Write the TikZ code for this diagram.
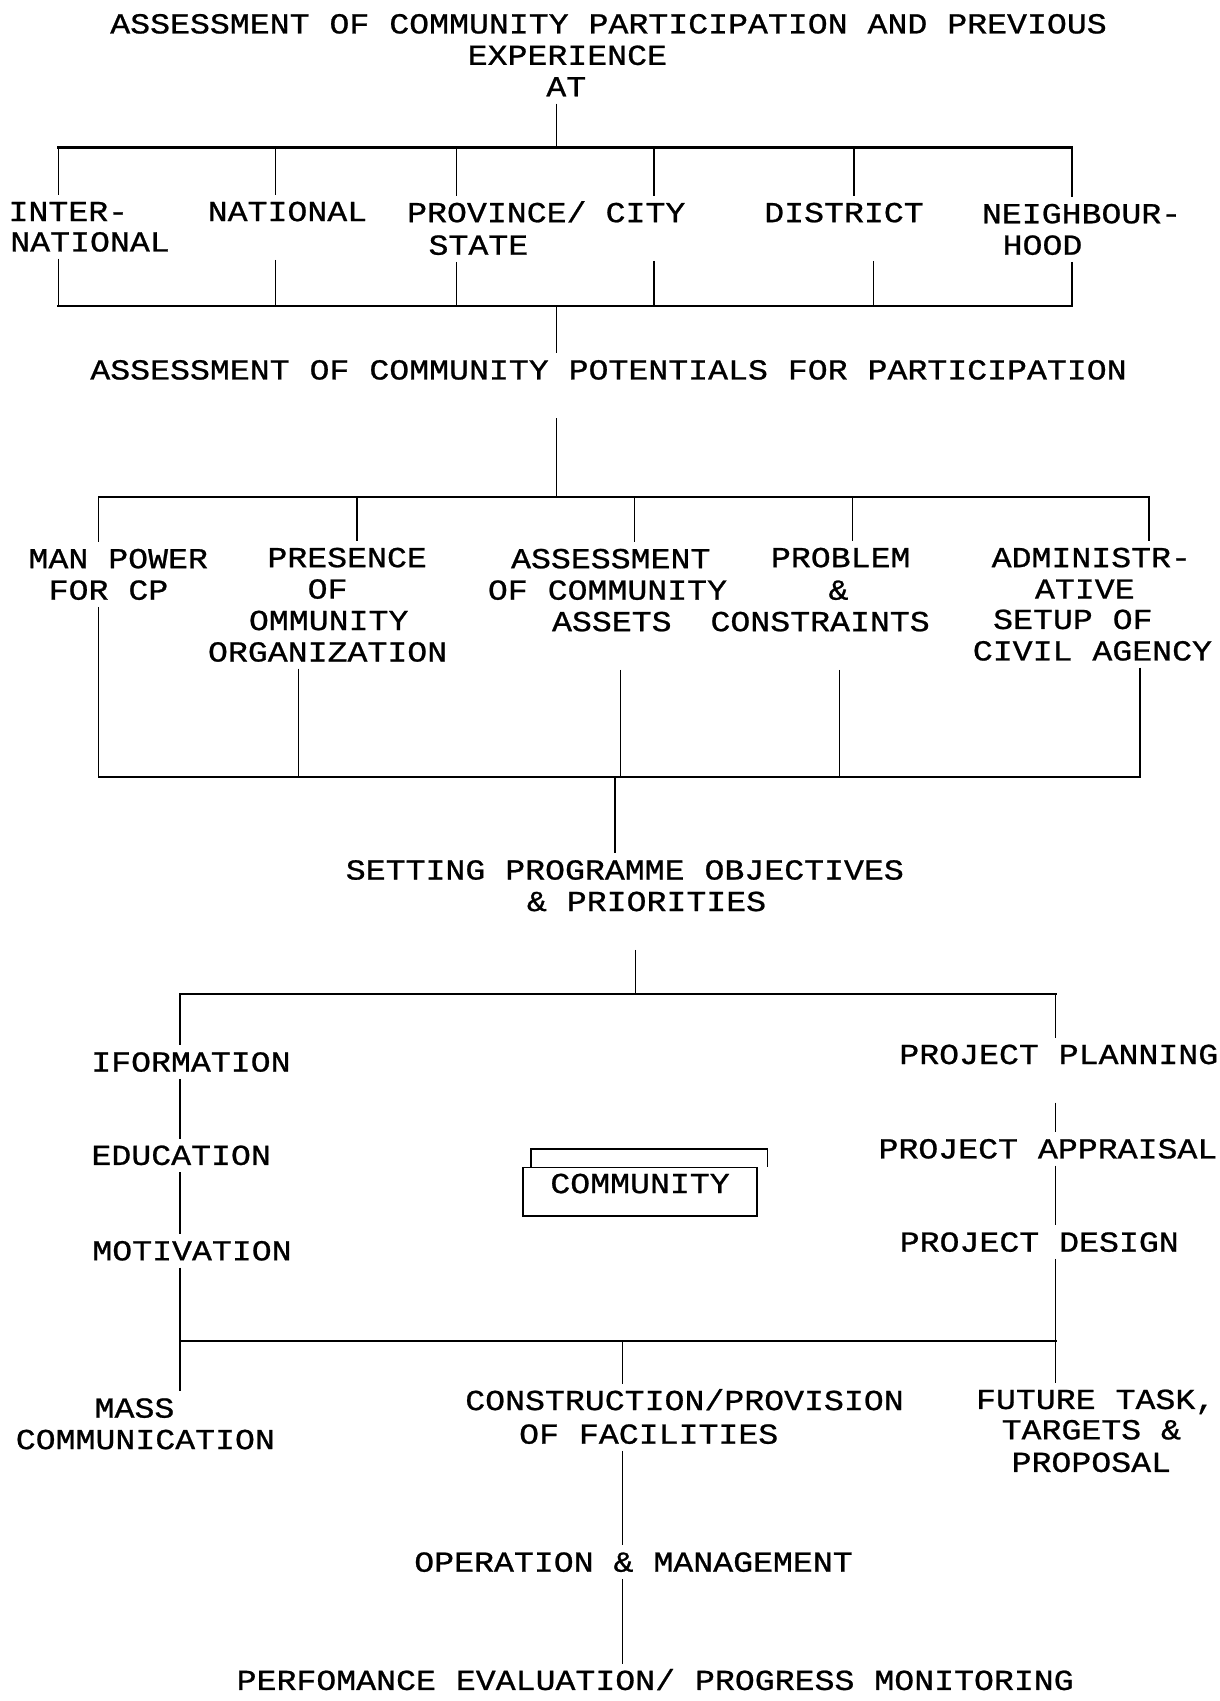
\documentclass[tikz,border=0pt]{standalone}
\usepackage{fontspec}
\newfontfamily\diagfont[FakeBold=0.8, FakeStretch=1.145]{Liberation Mono}
\newlength\capht

\begin{document}
\settoheight{\capht}{\diagfont\fontsize{29}{31.5}\selectfont H}%
\begin{tikzpicture}[x=1.0845pt, y=-1.0845pt,
  lbl/.style={font={\diagfont\fontsize{29}{31.5}\selectfont}, inner xsep=0pt,
    inner ysep=7pt, text height=\capht, text depth=0pt},
  vline/.style={line width=1.5pt},
  hline/.style={line width=2.2pt, line cap=rect},
  skipline/.style={shorten <=31.5pt},
]
\fill[white] (0,0) rectangle (1124,1568);
\useasboundingbox (0,0) rectangle (1124,1568);

% ---- level 1: where participation was assessed
\node[lbl] (t1) at (561,22) {ASSESSMENT OF COMMUNITY PARTICIPATION AND PREVIOUS};
\node[lbl] (t2) at (523,51) {EXPERIENCE};
\node[lbl] (t3) at (522,80) {AT};

\coordinate (a0) at (513,136);
\coordinate (d11) at (54,136);
\coordinate (d12) at (254,136);
\coordinate (d13) at (421,136);
\coordinate (d14) at (603,136);
\coordinate (d15) at (787,136);
\coordinate (d16) at (988,136);

\node[lbl] (intA) at (63,195) {INTER-};
\node[lbl] (intB) at (83,223) {NATIONAL};
\node[lbl] (nat) at (265,195) {NATIONAL};
\node[lbl] (provA) at (458,196) {PROVINCE/};
\node[lbl] (provB) at (441,226) {STATE};
\node[lbl] (city) at (595,196) {CITY};
\node[lbl] (dist) at (778,196) {DISTRICT};
\node[lbl] (nbA) at (997,197) {NEIGHBOUR-};
\node[lbl] (nbB) at (961,226) {HOOD};

\coordinate (r21) at (54,282);
\coordinate (r22) at (254,282);
\coordinate (r23) at (421,282);
\coordinate (r24) at (603,282);
\coordinate (r25) at (805,282);
\coordinate (r26) at (988,282);
\coordinate (a1) at (513,282);

\draw[vline] (t3.south -| a0) -- (a0);
\draw[hline] (d11) -- (d16);
\draw[vline] (d11) -- (intA.north -| d11);
\draw[vline] (d12) -- (nat.north -| d12);
\draw[vline] (d13) -- (provA.north -| d13);
\draw[vline] (d14) -- (city.north -| d14);
\draw[vline] (d15) -- (dist.north -| d15);
\draw[vline] (d16) -- (nbA.north -| d16);

\draw[vline] (intB.south -| r21) -- (r21);
\draw[vline,skipline] (nat.south -| r22) -- (r22);
\draw[vline] (provB.south -| r23) -- (r23);
\draw[vline,skipline] (city.south -| r24) -- (r24);
\draw[vline,skipline] (dist.south -| r25) -- (r25);
\draw[vline] (nbB.south -| r26) -- (r26);
\draw[hline] (r21) -- (r26);

\node[lbl] (pot) at (561,341) {ASSESSMENT OF COMMUNITY POTENTIALS FOR PARTICIPATION};
\draw[vline] (a1) -- (pot.north -| a1);

% ---- level 2: community potentials
\coordinate (a2) at (513,458);
\coordinate (d21) at (91,458);
\coordinate (d22) at (329,458);
\coordinate (d23) at (585,458);
\coordinate (d24) at (786,458);
\coordinate (d25) at (1059,458);
\draw[vline,skipline] (pot.south -| a2) -- (a2);
\draw[hline] (d21) -- (d25);

\node[lbl] (mpA) at (109,515) {MAN POWER};
\node[lbl] (mpB) at (100,544) {FOR CP};
\node[lbl] (prA) at (320,514) {PRESENCE};
\node[lbl] (prB) at (302,543) {OF};
\node[lbl] (prC) at (303,572) {OMMUNITY};
\node[lbl] (prD) at (302,601) {ORGANIZATION};
\node[lbl] (asA) at (563,515) {ASSESSMENT};
\node[lbl] (asB) at (560,544) {OF COMMUNITY};
\node[lbl] (asC) at (564,573) {ASSETS};
\node[lbl] (pbA) at (775,514) {PROBLEM};
\node[lbl] (pbB) at (773,544) {\&};
\node[lbl] (pbC) at (756,573) {CONSTRAINTS};
\node[lbl] (adA) at (1006,514) {ADMINISTR-};
\node[lbl] (adB) at (1000,543) {ATIVE};
\node[lbl] (adC) at (989,571) {SETUP OF};
\node[lbl] (adD) at (1007,600) {CIVIL AGENCY};

\draw[vline] (d21) -- (mpA.north -| d21);
\draw[vline] (d22) -- (prA.north -| d22);
\draw[vline] (d23) -- (asA.north -| d23);
\draw[vline] (d24) -- (pbA.north -| d24);
\draw[vline] (d25) -- (adA.north -| d25);

\coordinate (e21) at (91,716);
\coordinate (e22) at (275,716);
\coordinate (e23) at (572,716);
\coordinate (e24) at (774,716);
\coordinate (e25) at (1051,716);
\coordinate (a3) at (567,716);
\draw[vline] (mpB.south -| e21) -- (e21);
\draw[vline] (prD.south -| e22) -- (e22);
\draw[vline,skipline] (asC.south -| e23) -- (e23);
\draw[vline,skipline] (pbC.south -| e24) -- (e24);
\draw[vline] (adD.south -| e25) -- (e25);
\draw[hline] (e21) -- (e25);

\node[lbl] (setA) at (576,802) {SETTING PROGRAMME OBJECTIVES};
\node[lbl] (setB) at (596,831) {\& PRIORITIES};
\draw[vline] (a3) -- (setA.north -| a3);

% ---- level 3: programme around the community
\coordinate (a4) at (586,916);
\coordinate (f1) at (166,916);
\coordinate (f2) at (973,916);
\draw[vline,skipline] (setB.south -| a4) -- (a4);
\draw[hline] (f1) -- (f2);

\node[lbl] (inf) at (176,979) {IFORMATION};
\node[lbl] (edu) at (167,1065) {EDUCATION};
\node[lbl] (mot) at (177,1153) {MOTIVATION};

\node[lbl] (pp) at (976,972) {PROJECT PLANNING};
\node[lbl] (pa) at (966,1059) {PROJECT APPRAISAL};
\node[lbl] (pd) at (958,1145) {PROJECT DESIGN};

\node[draw, line width=1.5pt, minimum width=234pt, minimum height=48.8pt]
  (combox) at (590,1098.5) {};
\node[lbl] (com) at (590,1091) {COMMUNITY};
\draw[vline] ([xshift=8.7pt]combox.north west) -- ++(0,-16)
  -| ([xshift=9.8pt]combox.north east);

\coordinate (g1) at (166,1236);
\coordinate (g2) at (574,1236);
\coordinate (g3) at (973,1236);

\draw[vline] (f1) -- (inf.north -| f1);
\draw[vline] (inf.south -| f1) -- (edu.north -| f1);
\draw[vline] (edu.south -| f1) -- (mot.north -| f1);
\draw[vline] (mot.south -| f1) -- (g1);

\node[lbl] (massA) at (124,1298) {MASS};
\node[lbl] (massB) at (134,1327) {COMMUNICATION};
\node[lbl] (consA) at (631,1291) {CONSTRUCTION/PROVISION};
\node[lbl] (consB) at (598,1322) {OF FACILITIES};
\node[lbl] (ftA) at (1010,1290) {FUTURE TASK,};
\node[lbl] (ftB) at (1006,1318) {TARGETS \&};
\node[lbl] (ftC) at (1006,1348) {PROPOSAL};

\draw[vline] (f2) -- (pp.north -| f2);
\draw[vline,skipline] (pp.south -| f2) -- (pa.north -| f2);
\draw[vline] (pa.south -| f2) -- (pd.north -| f2);
\draw[vline] (pd.south -| f2) -- (ftA.north -| f2);

\draw[hline] (g1) -- (g3);
\draw[vline] (g1) -- (massA.north -| g1);
\draw[vline] (g2) -- (consA.north -| g2);

% ---- level 4: running the facilities
\node[lbl] (op) at (584,1440) {OPERATION \& MANAGEMENT};
\node[lbl] (perf) at (604,1549) {PERFOMANCE EVALUATION/ PROGRESS MONITORING};
\draw[vline] (consB.south -| g2) -- (op.north -| g2);
\draw[vline] (op.south -| g2) -- (perf.north -| g2);
\end{tikzpicture}
\end{document}
